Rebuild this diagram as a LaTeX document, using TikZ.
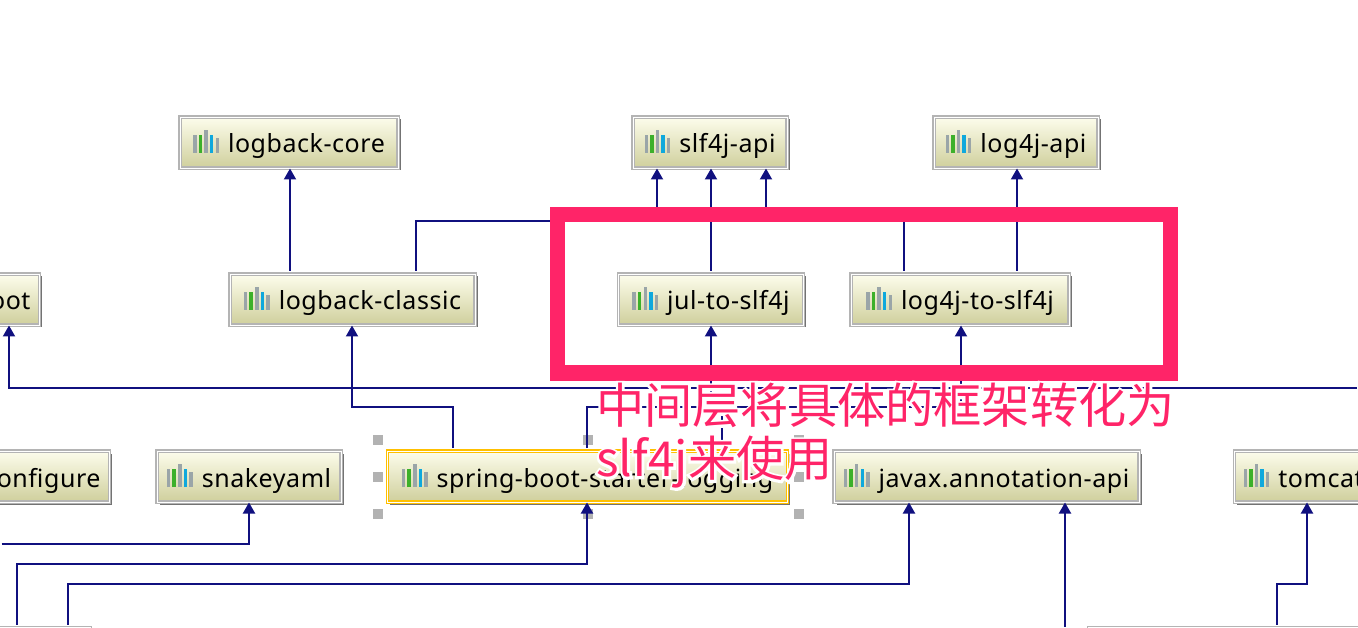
\documentclass[tikz,border=0pt]{standalone}
\usepackage{fontspec}
\usepackage{xcolor}
\setmainfont[LetterSpace=2.2]{Noto Sans}
\newfontfamily\cjkfont{Noto Sans CJK SC}
\newfontfamily\cjkhalo[FakeBold=10]{Noto Sans CJK SC}
\usetikzlibrary{arrows.meta, shadows}

\definecolor{depblue}{HTML}{10107F}
\definecolor{notepink}{HTML}{FF2468}
\definecolor{bargray}{HTML}{9AA5A8}
\definecolor{bargreen}{HTML}{3CB02A}
\definecolor{barcyan}{HTML}{0FA8DC}
\definecolor{boxtop}{HTML}{FDFDEC}
\definecolor{boxbottom}{HTML}{CFCF9C}
\definecolor{boxedge}{HTML}{B4B4B4}
\definecolor{seledge}{HTML}{FFC000}

\newcommand{\libicon}{\textcolor{bargray}{\rule{3.5pt}{18pt}}\kern2.1pt\textcolor{bargreen}{\rule{3.5pt}{18pt}}\kern2.1pt\textcolor{bargray}{\rule{3.5pt}{23pt}}\kern2.1pt\textcolor{barcyan}{\rule{3.5pt}{18pt}}\kern2.1pt\textcolor{bargray}{\rule{3.5pt}{15pt}}\kern9pt}
\newcommand{\halotext}[1]{\rlap{\cjkhalo\textcolor{white}{#1}}#1}

\tikzset{
    libbox/.style={draw=boxedge, line width=1.7pt, double=white, double distance=.5pt,
        top color=boxtop, bottom color=boxbottom, inner xsep=9pt, inner ysep=0pt,
        minimum height=51pt, text height=25pt, text depth=4pt, outer sep=1.5pt,
        font=\fontsize{25}{28}\selectfont, general shadow={shadow xshift=2.5pt, shadow yshift=-2.5pt, fill=black!55}},
    selbox/.style={libbox, draw=seledge, general shadow={opacity=0}},
    dep/.style={depblue, line width=2pt, shorten <=1.5pt, shorten >=-1pt, -{Triangle[width=12pt,length=11pt]}},
    handle/.style={fill=black!30, inner sep=0pt, minimum size=10pt}
}

\begin{document}
\begin{tikzpicture}[x=1pt, y=-1pt]
    \useasboundingbox (0,0) rectangle (1358,628);

    % Top row
    \node[libbox, minimum width=218pt] (logbackcore) at (289,142.5) {\libicon logback-core};
    \node[libbox, minimum width=154pt] (slfapi) at (710,142.5) {\libicon slf4j-api};
    \node[libbox, minimum width=164pt] (logapi) at (1016,142.5) {\libicon log4j-api};

    % Middle row
    \node[libbox, anchor=east] (springboot) at (41,299.5) {\hspace*{80pt}oot};
    \node[libbox, minimum width=245pt] (logbackclassic) at (352.5,299.5) {\libicon logback-classic};
    \node[libbox, minimum width=185pt] (jultoslf) at (711,299.5) {\libicon jul-to-slf4j};
    \node[libbox, minimum width=218pt] (logtoslf) at (960,299.5) {\libicon log4j-to-slf4j};

    % Lower row
    \node[libbox, anchor=east] (autoconf) at (111,476.5) {\hspace*{80pt}onfigure};
    \node[libbox, minimum width=184pt] (snakeyaml) at (249,476.5) {\libicon snakeyaml};
    \foreach \hx/\hy in {378/440,588/440,378/477,378/514,588/514,799/477,799/514,799/440}
        \node[handle] (hand\hx\hy) at (\hx,\hy) {};
    \node[selbox, minimum width=400pt] (starterlog) at (587.5,476.5) {\libicon spring-boot-starter-logging};
    \node[libbox, minimum width=305pt] (javaxapi) at (986.5,476.5) {\libicon javax.annotation-api};
    \node[libbox, anchor=west] (tomcat) at (1233,476.5) {\libicon tomcat\hspace*{80pt}};

    % Bottom row, cut by the edge
    \node[libbox, anchor=north east, minimum width=180pt] (leftjar) at (92,626) {};
    \node[libbox, anchor=north west, minimum width=300pt] (rightjar) at (1087,626) {};

    % Free ends
    \coordinate (offright) at (1358,388);
    \coordinate (offleft) at (0,544);

    % Dependencies
    \draw[dep] (290,0 |- logbackclassic.north) -- (290,0 |- logbackcore.south);
    \draw[dep] (416,0 |- logbackclassic.north) |- (657,221) -- (657,0 |- slfapi.south);
    \draw[dep] (711,0 |- jultoslf.north) -- (711,0 |- slfapi.south);
    \draw[dep] (904,0 |- logtoslf.north) |- (766,221) -- (766,0 |- slfapi.south);
    \draw[dep] (1017,0 |- logtoslf.north) -- (1017,0 |- logapi.south);
    \draw[dep] (offright) -| (9,0 |- springboot.south);
    \draw[dep] (453,0 |- starterlog.north) |- (352,407) -- (352,0 |- logbackclassic.south);
    \draw[dep] (587,0 |- starterlog.north) |- (961,407) -- (961,0 |- logtoslf.south);
    \draw[dep] (722,0 |- starterlog.north) |- (711,407) -- (711,0 |- jultoslf.south);
    \draw[dep] (offleft) -| (249,0 |- snakeyaml.south);
    \draw[dep] (17,0 |- leftjar.north) |- (587,564) -- (587,0 |- starterlog.south);
    \draw[dep] (68,0 |- leftjar.north) |- (909,584) -- (909,0 |- javaxapi.south);
    \draw[dep] (1065,628) -- (1065,0 |- javaxapi.south);
    \draw[dep] (1277,0 |- rightjar.north) |- (1307,584) -- (1307,0 |- tomcat.south);

    % Hand-drawn frame and note
    \node[draw=notepink, line width=15.5pt, minimum width=613pt, minimum height=158.5pt] (midframe) at (864,294) {};
    \node[anchor=north west, inner sep=0pt, align=left, text=notepink, font=\cjkfont\fontsize{48.2}{53}\selectfont] (midnote) at (596,383)
        {\halotext{中间层将具体的框架转化为}\\\halotext{slf4j来使用}};
\end{tikzpicture}
\end{document}
